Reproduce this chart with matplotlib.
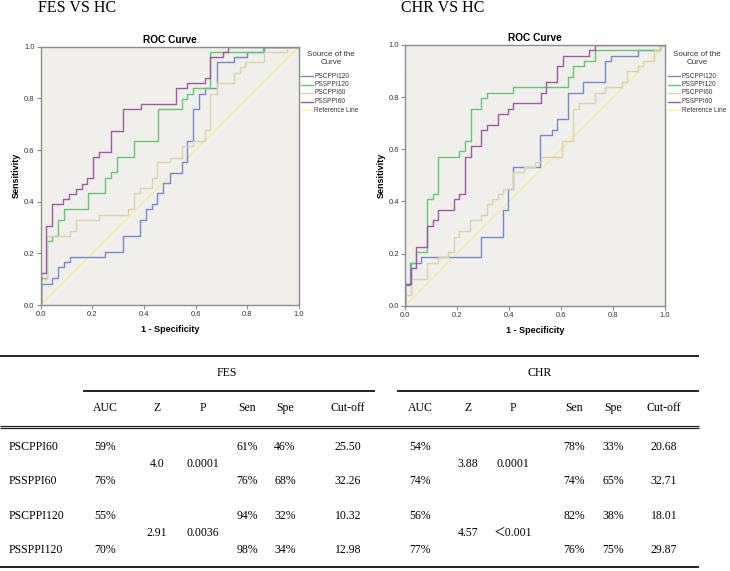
import matplotlib
matplotlib.use('Agg')
import matplotlib.pyplot as plt

# ROC curves: at each fpr value the curve rises to the tpr value
fes_blue_fpr = [0, 0.045, 0.068, 0.092, 0.114, 0.25, 0.317, 0.385, 0.408, 0.43, 0.452, 0.475, 0.5, 0.546, 0.568, 0.59, 0.613, 0.636, 0.681, 0.75, 0.797, 0.865, 1.0]
fes_blue_tpr = [0.081, 0.103, 0.146, 0.165, 0.187, 0.206, 0.267, 0.329, 0.37, 0.39, 0.432, 0.471, 0.512, 0.553, 0.635, 0.759, 0.817, 0.839, 0.939, 0.959, 0.98, 1.0, 1.0]
fes_green_fpr = [0, 0.023, 0.045, 0.068, 0.092, 0.182, 0.25, 0.272, 0.294, 0.363, 0.455, 0.546, 0.568, 0.59, 0.655, 0.862, 1.0]
fes_green_tpr = [0.103, 0.248, 0.267, 0.329, 0.37, 0.432, 0.49, 0.514, 0.574, 0.635, 0.759, 0.797, 0.817, 0.839, 0.98, 1.0, 1.0]
fes_tan_fpr = [0, 0.023, 0.114, 0.137, 0.227, 0.339, 0.363, 0.385, 0.43, 0.452, 0.5, 0.546, 0.59, 0.636, 0.657, 0.681, 0.75, 0.77, 0.79, 0.865, 0.955, 1.0]
fes_tan_tpr = [0.1, 0.267, 0.286, 0.329, 0.348, 0.37, 0.432, 0.452, 0.49, 0.552, 0.571, 0.615, 0.635, 0.677, 0.817, 0.858, 0.9, 0.92, 0.939, 0.98, 1.0, 1.0]
fes_purple_fpr = [0, 0.02, 0.045, 0.088, 0.11, 0.137, 0.16, 0.18, 0.204, 0.227, 0.272, 0.32, 0.387, 0.523, 0.568, 0.636, 0.655, 0.705, 0.726, 1.0]
fes_purple_tpr = [0.123, 0.307, 0.39, 0.41, 0.43, 0.45, 0.47, 0.49, 0.574, 0.594, 0.675, 0.759, 0.778, 0.839, 0.858, 0.88, 0.96, 0.98, 1.0, 1.0]

chr_blue_fpr = [0, 0.02, 0.063, 0.292, 0.376, 0.397, 0.417, 0.52, 0.564, 0.583, 0.626, 0.686, 0.771, 0.792, 0.897, 0.981, 1.0]
chr_blue_tpr = [0.08, 0.163, 0.185, 0.265, 0.368, 0.449, 0.532, 0.653, 0.673, 0.715, 0.817, 0.858, 0.938, 0.958, 0.979, 1.0, 1.0]
chr_green_fpr = [0, 0.022, 0.042, 0.083, 0.106, 0.126, 0.209, 0.231, 0.252, 0.293, 0.314, 0.417, 0.626, 0.647, 0.688, 0.731, 0.981, 1.0]
chr_green_tpr = [0.083, 0.163, 0.205, 0.409, 0.429, 0.571, 0.592, 0.632, 0.756, 0.797, 0.817, 0.837, 0.878, 0.919, 0.938, 0.98, 1.0, 1.0]
chr_tan_fpr = [0, 0.022, 0.083, 0.126, 0.167, 0.188, 0.209, 0.251, 0.292, 0.314, 0.333, 0.356, 0.376, 0.417, 0.459, 0.5, 0.522, 0.605, 0.647, 0.669, 0.731, 0.771, 0.833, 0.853, 0.897, 0.917, 0.959, 0.981, 1.0]
chr_tan_tpr = [0.041, 0.103, 0.163, 0.185, 0.205, 0.265, 0.287, 0.327, 0.349, 0.39, 0.409, 0.429, 0.449, 0.511, 0.532, 0.55, 0.571, 0.633, 0.756, 0.776, 0.817, 0.837, 0.858, 0.9, 0.919, 0.938, 0.979, 1.0, 1.0]
chr_purple_fpr = [0, 0.022, 0.042, 0.083, 0.106, 0.126, 0.188, 0.209, 0.23, 0.252, 0.293, 0.314, 0.356, 0.397, 0.417, 0.522, 0.542, 0.586, 0.606, 0.708, 0.731, 1.0]
chr_purple_tpr = [0.083, 0.144, 0.224, 0.306, 0.327, 0.368, 0.409, 0.429, 0.571, 0.612, 0.673, 0.693, 0.734, 0.755, 0.776, 0.817, 0.858, 0.919, 0.958, 0.979, 1.0, 1.0]

legend_labels = ['PSCPPI120', 'PSSPPI120', 'PSCPPI60', 'PSSPPI60', 'Reference Line']

# table
row_names = ['PSCPPI60', 'PSSPPI60', 'PSCPPI120', 'PSSPPI120']
col_names = ['AUC', 'Z', 'P', 'Sen', 'Spe', 'Cut-off']
fes_auc = ['59%', '76%', '55%', '70%']
fes_z = ['4.0', '2.91']
fes_p = ['0.0001', '0.0036']
fes_sen = ['61%', '76%', '94%', '98%']
fes_spe = ['46%', '68%', '32%', '34%']
fes_cut = ['25.50', '32.26', '10.32', '12.98']
chr_auc = ['54%', '74%', '56%', '77%']
chr_z = ['3.88', '4.57']
chr_p = ['0.0001', '\uff1c0.001']
chr_sen = ['78%', '74%', '82%', '76%']
chr_spe = ['33%', '65%', '38%', '75%']
chr_cut = ['20.68', '32.71', '18.01', '29.87']

colors = ['#7589d1', '#66c771', '#d9d5a9', '#a058a3']
ref_color = '#f4f095'
frame_color = '#8c8c8c'
serif = ['Liberation Serif', 'Noto Sans CJK SC']
sans = 'Liberation Sans'

fig = plt.figure(figsize=(7.3, 5.71), dpi=100)


def roc_panel(rect, curves):
    ax = fig.add_axes(rect)
    ax.set_facecolor('#f0efeb')
    ax.plot([0, 1], [0, 1], color=ref_color, lw=0.9, zorder=1)
    for (fpr, tpr), c in zip(curves, colors):
        ax.step([0] + fpr, [0] + tpr, where='post', color=c, lw=1.0, zorder=2)
    ax.set_xlim(0, 1)
    ax.set_ylim(0, 1)
    ticks = [0, 0.2, 0.4, 0.6, 0.8, 1.0]
    ax.set_xticks(ticks)
    ax.set_yticks(ticks)
    ax.set_xticklabels(['%.1f' % t for t in ticks])
    ax.set_yticklabels(['%.1f' % t for t in ticks])
    ax.tick_params(labelsize=5.5, length=3, width=0.8, pad=1.5, color=frame_color, labelcolor='#333333')
    for sp in ax.spines.values():
        sp.set_color(frame_color)
        sp.set_linewidth(1.0)
    for lbl in ax.get_xticklabels() + ax.get_yticklabels():
        lbl.set_family(sans)
    ax.set_title('ROC Curve', fontsize=7.3, fontweight='bold', family=sans, pad=3)
    ax.set_ylabel('Sensitivity', fontsize=6.5, fontweight='bold', family=sans, labelpad=2)
    ax.set_xlabel('1 - Specificity', fontsize=6.5, fontweight='bold', family=sans, labelpad=5)
    return ax


ax1 = roc_panel([0.0558, 0.4658, 0.3538, 0.4524],
                [(fes_blue_fpr, fes_blue_tpr), (fes_green_fpr, fes_green_tpr),
                 (fes_tan_fpr, fes_tan_tpr), (fes_purple_fpr, fes_purple_tpr)])
ax2 = roc_panel([0.5548, 0.4646, 0.3562, 0.4566],
                [(chr_blue_fpr, chr_blue_tpr), (chr_green_fpr, chr_green_tpr),
                 (chr_tan_fpr, chr_tan_tpr), (chr_purple_fpr, chr_purple_tpr)])

# overlay in pixel coordinates for titles, legends and the table
ov = fig.add_axes([0, 0, 1, 1])
ov.set_xlim(0, 730)
ov.set_ylim(571, 0)
ov.axis('off')

ov.text(38, 8, 'FES VS HC', fontsize=11.5, family=serif, va='center')
ov.text(401, 8, 'CHR VS HC', fontsize=11.5, family=serif, va='center')

leg_y = [76, 84.5, 93, 101.5, 110]
for x0, tx in [(301, 331), (668, 697)]:
    ov.text(tx, 54, 'Source of the', fontsize=5.8, family=sans, ha='center', va='center', color='#333333')
    ov.text(tx, 62.5, 'Curve', fontsize=5.8, family=sans, ha='center', va='center', color='#333333')
    for i, lab in enumerate(legend_labels):
        c = colors[i] if i < 4 else ref_color
        ov.plot([x0, x0 + 12], [leg_y[i], leg_y[i]], color=c, lw=1.0)
        ov.text(x0 + 13.5, leg_y[i], lab, fontsize=4.7, family=sans, va='center', color='#333333')

# table lines
line_kw = dict(color='#222222', solid_capstyle='butt')
ov.plot([0, 699], [355.7, 355.7], lw=1.4, **line_kw)
ov.plot([83, 375], [391, 391], lw=1.4, **line_kw)
ov.plot([397, 699], [391, 391], lw=1.4, **line_kw)
ov.plot([0, 699], [426, 426], lw=0.9, **line_kw)
ov.plot([0, 699], [428.3, 428.3], lw=0.9, **line_kw)
ov.plot([0, 699], [566.5, 566.5], lw=1.4, **line_kw)

fs = 8.5
ov.text(227, 373, 'FES', fontsize=fs, family=serif, ha='center', va='center')
ov.text(540, 373, 'CHR', fontsize=fs, family=serif, ha='center', va='center')

row_y = [447, 481, 516, 550]
pair_y = [464, 533]
fes_x = [105, 157, 203, 247, 285, 348]
chr_x = [420, 468, 513, 574, 613, 664]
for xs, auc, z, p, sen, spe, cut in [(fes_x, fes_auc, fes_z, fes_p, fes_sen, fes_spe, fes_cut),
                                     (chr_x, chr_auc, chr_z, chr_p, chr_sen, chr_spe, chr_cut)]:
    for x, name in zip(xs, col_names):
        ov.text(x, 408, name, fontsize=fs, family=serif, ha='center', va='center')
    for i in range(4):
        for x, col in zip([xs[0], xs[3], xs[4], xs[5]], [auc, sen, spe, cut]):
            ov.text(x, row_y[i], col[i], fontsize=fs, family=serif, ha='center', va='center')
    for j in range(2):
        ov.text(xs[1], pair_y[j], z[j], fontsize=fs, family=serif, ha='center', va='center')
        ov.text(xs[2], pair_y[j], p[j], fontsize=fs, family=serif, ha='center', va='center')

for i, name in enumerate(row_names):
    ov.text(9, row_y[i], name, fontsize=fs, family=serif, va='center')

fig.savefig('out.png', dpi=100)
